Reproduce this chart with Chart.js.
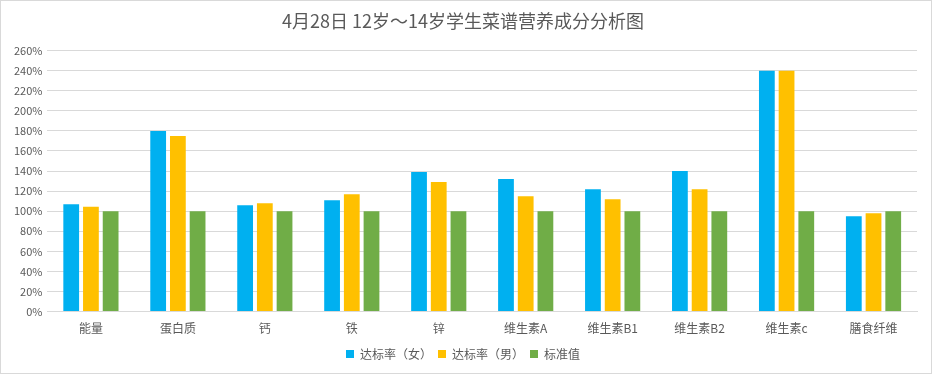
<!DOCTYPE html>
<html>
<head>
<meta charset="utf-8">
<script src="https://cdn.jsdelivr.net/npm/chart.js@4"></script>
<style>
  html, body { margin: 0; padding: 0; background: #fff; }
  #wrap { width: 932px; height: 374px; box-sizing: border-box; border: 1px solid #d9d9d9; }
</style>
</head>
<body>
<div id="wrap"><canvas id="chart" width="930" height="372"></canvas></div>
<script>
const categories = ["能量", "蛋白质", "钙", "铁", "锌", "维生素A", "维生素B1", "维生素B2", "维生素c", "膳食纤维"];
const femaleRate = [107, 180, 106, 111, 139, 132, 122, 140, 240, 95];
const maleRate = [104.5, 175, 108, 117, 129, 115, 112, 122, 240, 98];
const standard = [100, 100, 100, 100, 100, 100, 100, 100, 100, 100];
const seriesNames = ["达标率（女）", "达标率（男）", "标准值"];

const fontFamily = "'Noto Sans CJK SC', 'Noto Sans', sans-serif";
const textColor = "#595959";

const ctx = document.getElementById("chart").getContext("2d");
new Chart(ctx, {
  type: "bar",
  data: {
    labels: categories,
    datasets: [
      { label: seriesNames[0], data: femaleRate, backgroundColor: "#00b0f0" },
      { label: seriesNames[1], data: maleRate, backgroundColor: "#ffc000" },
      { label: seriesNames[2], data: standard, backgroundColor: "#70ad47" },
    ],
  },
  options: {
    responsive: false,
    animation: false,
    layout: { padding: { left: 8, right: 14, top: 5, bottom: 3 } },
    datasets: {
      bar: { categoryPercentage: 0.68, barPercentage: 0.8 },
    },
    scales: {
      x: {
        grid: { display: false },
        border: { color: "#d9d9d9" },
        ticks: { color: textColor, font: { family: fontFamily, size: 12 }, padding: 2 },
        afterFit: (scale) => { scale.height += 4; },
      },
      y: {
        min: 0,
        max: 260,
        ticks: {
          stepSize: 20,
          padding: 5,
          color: textColor,
          font: { family: fontFamily, size: 11 },
          callback: (v) => v + "%",
        },
        grid: { color: "#d9d9d9", drawTicks: false },
        border: { display: false },
      },
    },
    plugins: {
      title: {
        display: true,
        text: "4月28日 12岁～14岁学生菜谱营养成分分析图",
        color: textColor,
        font: { family: fontFamily, size: 18, weight: "normal" },
        padding: { top: 4, bottom: 19 },
      },
      legend: {
        position: "bottom",
        labels: {
          boxWidth: 8,
          boxHeight: 8,
          padding: 6,
          color: textColor,
          font: { family: fontFamily, size: 12 },
        },
      },
      tooltip: { enabled: false },
    },
  },
});
</script>
</body>
</html>
